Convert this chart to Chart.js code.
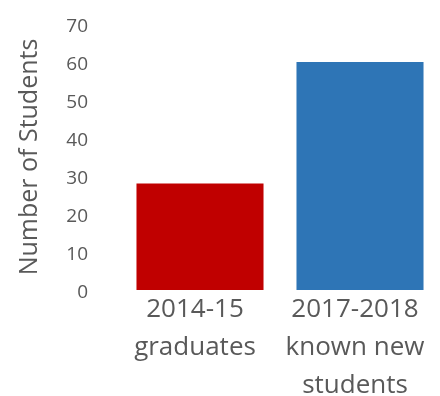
<!DOCTYPE html>
<html>
<head>
<meta charset="utf-8">
<script src="https://cdn.jsdelivr.net/npm/chart.js@4/dist/chart.umd.min.js"></script>
<style>
  html, body { margin: 0; padding: 0; background: #ffffff; }
  #wrap { width: 440px; height: 396px; }
</style>
</head>
<body>
<div id="wrap"><canvas id="students"></canvas></div>
<script>
// Data
var categories = [
    ["2014-15", "graduates"],
    ["2017-2018", "known new", "students"]
];
var studentCounts = [28, 60];
var barColours = ["#c00000", "#2e75b6"];
var yTicks = [0, 10, 20, 30, 40, 50, 60, 70];

var labelColour = "#595959";
Chart.defaults.font.family = "'Open Sans', sans-serif";

const data = {
    labels: categories,
    datasets: [{
        label: "Number of Students",
        data: studentCounts,
        backgroundColor: barColours,
        borderWidth: 0,
        barPercentage: 0.794,
        categoryPercentage: 1
    }]
};

const options = {
    responsive: true,
    maintainAspectRatio: false,
    animation: false,
    layout: {
        // the last bar runs nearly to the edge of the canvas
        padding: { top: 24, right: -5, bottom: 0, left: 0 }
    },
    scales: {
        x: {
            grid: { display: false, drawTicks: false },
            border: { display: false },
            ticks: {
                color: labelColour,
                padding: 1,
                labelOffset: -5,
                maxRotation: 0,
                font: { size: 26, lineHeight: 1.46 }
            },
            afterFit: function(scale) { scale.height = 106; }
        },
        y: {
            min: yTicks[0],
            max: yTicks[yTicks.length - 1],
            grid: { display: false, drawTicks: false },
            border: { display: false },
            afterBuildTicks: function(scale) {
                scale.ticks = yTicks.map(function(v) { return { value: v }; });
            },
            ticks: {
                color: labelColour,
                padding: 32,
                labelOffset: 3,
                font: { size: 19 }
            },
            title: {
                display: true,
                text: "Number of Students",
                color: labelColour,
                padding: { top: 15, bottom: 0 },
                font: { size: 25 }
            },
            afterFit: function(scale) {
                // the wide tick padding should not push the plot area down
                scale.width = 120;
                scale.paddingTop = 0;
                scale.paddingBottom = 0;
            }
        }
    },
    plugins: {
        legend: { display: false },
        tooltip: { enabled: false }
    }
};

new Chart(document.getElementById("students"), {
    type: "bar", data, options
});
</script>
</body>
</html>
